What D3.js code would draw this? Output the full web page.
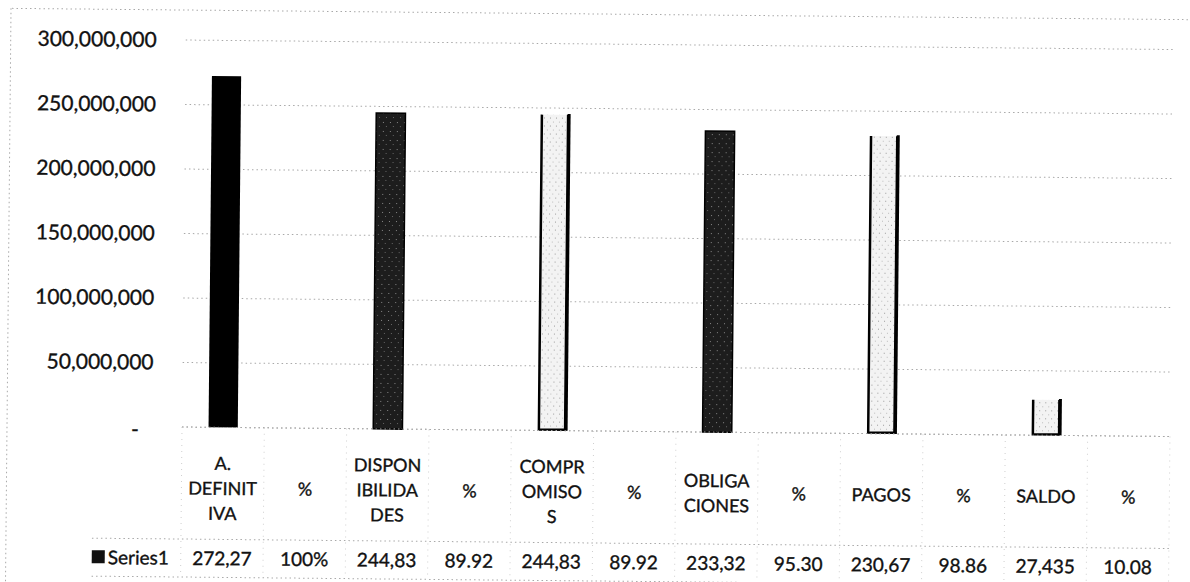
<!DOCTYPE html>
<html>
<head>
<meta charset="utf-8">
<script src="https://cdn.jsdelivr.net/npm/d3@7"></script>
<style>
  body { margin: 0; background: #fff; }
  svg { display: block; }
  text { font-family: Lato, "Open Sans", sans-serif; fill: #111; stroke: #111; stroke-width: 0.35; }
</style>
</head>
<body>
<svg id="chart" width="1190" height="582"></svg>
<script>
// data
const categories = ["A. DEFINITIVA", "%", "DISPONIBILIDADES", "%", "COMPROMISOS", "%",
  "OBLIGACIONES", "%", "PAGOS", "%", "SALDO", "%"];
const headerLines = [["A.", "DEFINIT", "IVA"], ["%"], ["DISPON", "IBILIDA", "DES"], ["%"],
  ["COMPR", "OMISO", "S"], ["%"], ["OBLIGA", "CIONES"], ["%"], ["PAGOS"], ["%"], ["SALDO"], ["%"]];
const values = [272270000, 100, 244830000, 89.92, 244830000, 89.92,
  233320000, 95.30, 230670000, 98.86, 27435000, 10.08];
const tableLabels = ["272,27", "100%", "244,83", "89.92", "244,83", "89.92",
  "233,32", "95.30", "230,67", "98.86", "27,435", "10.08"];
const yTicks = [0, 50000000, 100000000, 150000000, 200000000, 250000000, 300000000];
const seriesName = "Series1";

const svg = d3.select("#chart");

// the scan is slightly tilted, keep that
const g = svg.append("g").attr("transform", "rotate(0.55,180,427)");

// patterns for the grainy scanned bars
const defs = svg.append("defs");
const dark = defs.append("pattern").attr("id", "dark").attr("patternUnits", "userSpaceOnUse")
  .attr("width", 7).attr("height", 9);
dark.append("rect").attr("width", 7).attr("height", 9).attr("fill", "#1d1d1d");
dark.append("rect").attr("x", 2).attr("y", 3).attr("width", 1).attr("height", 1).attr("fill", "#888");
dark.append("rect").attr("x", 5).attr("y", 7).attr("width", 1).attr("height", 1).attr("fill", "#666");
const light = defs.append("pattern").attr("id", "light").attr("patternUnits", "userSpaceOnUse")
  .attr("width", 6).attr("height", 8);
light.append("rect").attr("width", 6).attr("height", 8).attr("fill", "#f3f3f3");
light.append("rect").attr("x", 1).attr("y", 2).attr("width", 1).attr("height", 1).attr("fill", "#999");
light.append("rect").attr("x", 4).attr("y", 6).attr("width", 1).attr("height", 1).attr("fill", "#bbb");

const barStyle = ["black", null, "dark", null, "light", null, "dark", null, "light", null, "light", null];

const x = d3.scaleBand().domain(d3.range(categories.length)).range([182, 1170]).padding(0);
const y = d3.scaleLinear().domain([0, 300000000]).range([427, 40]);
const barW = x.bandwidth() * 0.355;

const dotted = (sel) => sel.attr("stroke", "#a8a8a8").attr("stroke-width", 1)
  .attr("stroke-dasharray", "1.5,3").attr("fill", "none");

// chart border (top / left)
g.append("line").attr("x1", 8).attr("x2", 1200).attr("y1", 10).attr("y2", 10).call(dotted);
g.append("line").attr("x1", 7).attr("x2", 7).attr("y1", 10).attr("y2", 590).call(dotted);

// gridlines
g.append("g").selectAll("line").data(yTicks).join("line")
  .attr("x1", x.range()[0]).attr("x2", x.range()[1])
  .attr("y1", d => y(d)).attr("y2", d => y(d)).call(dotted);

// y labels
const yAxis = d3.axisLeft(y).tickValues(yTicks).tickSize(0).tickPadding(0)
  .tickFormat(d => d === 0 ? "-" : d3.format(",")(d));
const ya = g.append("g").attr("transform", "translate(153,0)").call(yAxis);
ya.select(".domain").remove();
ya.selectAll("text").attr("font-size", 21).attr("font-family", "Lato, sans-serif").attr("fill", "#111");
ya.selectAll(".tick").filter(d => d === 0).select("text").attr("dx", -14).attr("dy", "0.45em");

// bars
const bars = g.append("g");
values.forEach((v, i) => {
  const st = barStyle[i];
  if (!st) return;
  const x0 = x(i) + (x.bandwidth() - barW) / 2, y0 = y(v), h = y(0) - y(v);
  if (st === "black") {
    bars.append("rect").attr("x", x0).attr("y", y0).attr("width", barW).attr("height", h).attr("fill", "#000");
  } else if (st === "dark") {
    bars.append("rect").attr("x", x0).attr("y", y0).attr("width", barW).attr("height", h)
      .attr("fill", "url(#dark)").attr("stroke", "#000").attr("stroke-width", 1.5);
  } else {
    bars.append("rect").attr("x", x0).attr("y", y0).attr("width", barW).attr("height", h).attr("fill", "url(#light)");
    bars.append("path")
      .attr("d", `M${x0 + 1},${y0} V${y0 + h - 1} H${x0 + barW - 2} V${y0}`)
      .attr("fill", "none").attr("stroke", "#000").attr("stroke-width", 2.5);
    bars.append("line").attr("x1", x0 + barW - 1).attr("x2", x0 + barW - 1)
      .attr("y1", y0 - 1).attr("y2", y0 + h).attr("stroke", "#000").attr("stroke-width", 3);
  }
});

// data table
const tHead0 = 427, tHead1 = 539, tRow1 = 577, legendX = 93;
g.append("line").attr("x1", x.range()[0]).attr("x2", x.range()[1]).attr("y1", tHead0).attr("y2", tHead0).call(dotted);
g.append("line").attr("x1", legendX).attr("x2", x.range()[1]).attr("y1", tHead1).attr("y2", tHead1).call(dotted);
g.append("line").attr("x1", legendX).attr("x2", x.range()[1]).attr("y1", tRow1).attr("y2", tRow1).call(dotted);
g.append("g").selectAll("line").data(d3.range(categories.length + 1)).join("line")
  .attr("x1", i => x.range()[0] + i * x.step()).attr("x2", i => x.range()[0] + i * x.step())
  .attr("y1", tHead0).attr("y2", tRow1).call(dotted)
  .attr("stroke", "#cfcfcf").attr("stroke-dasharray", "1,5");

const head = g.append("g").selectAll("text").data(headerLines).join("text")
  .attr("text-anchor", "middle").attr("font-size", 18);
head.each(function (lines, i) {
  const lh = 25, cy = 488 - (lines.length - 1) * lh / 2;
  d3.select(this).selectAll("tspan").data(lines).join("tspan")
    .attr("x", x(i) + x.bandwidth() / 2)
    .attr("y", (d, k) => cy + k * lh).attr("dy", "0.36em").text(d => d);
});

g.append("g").selectAll("text").data(tableLabels).join("text")
  .attr("x", (d, i) => x(i) + x.bandwidth() / 2).attr("y", 558).attr("dy", "0.36em")
  .attr("text-anchor", "middle").attr("font-size", 19).text(d => d);

// legend key
g.append("rect").attr("x", legendX).attr("y", 551).attr("width", 13).attr("height", 13).attr("fill", "#111");
g.append("text").attr("x", legendX + 16).attr("y", 558).attr("dy", "0.36em").attr("font-size", 19).text(seriesName);
</script>
</body>
</html>
